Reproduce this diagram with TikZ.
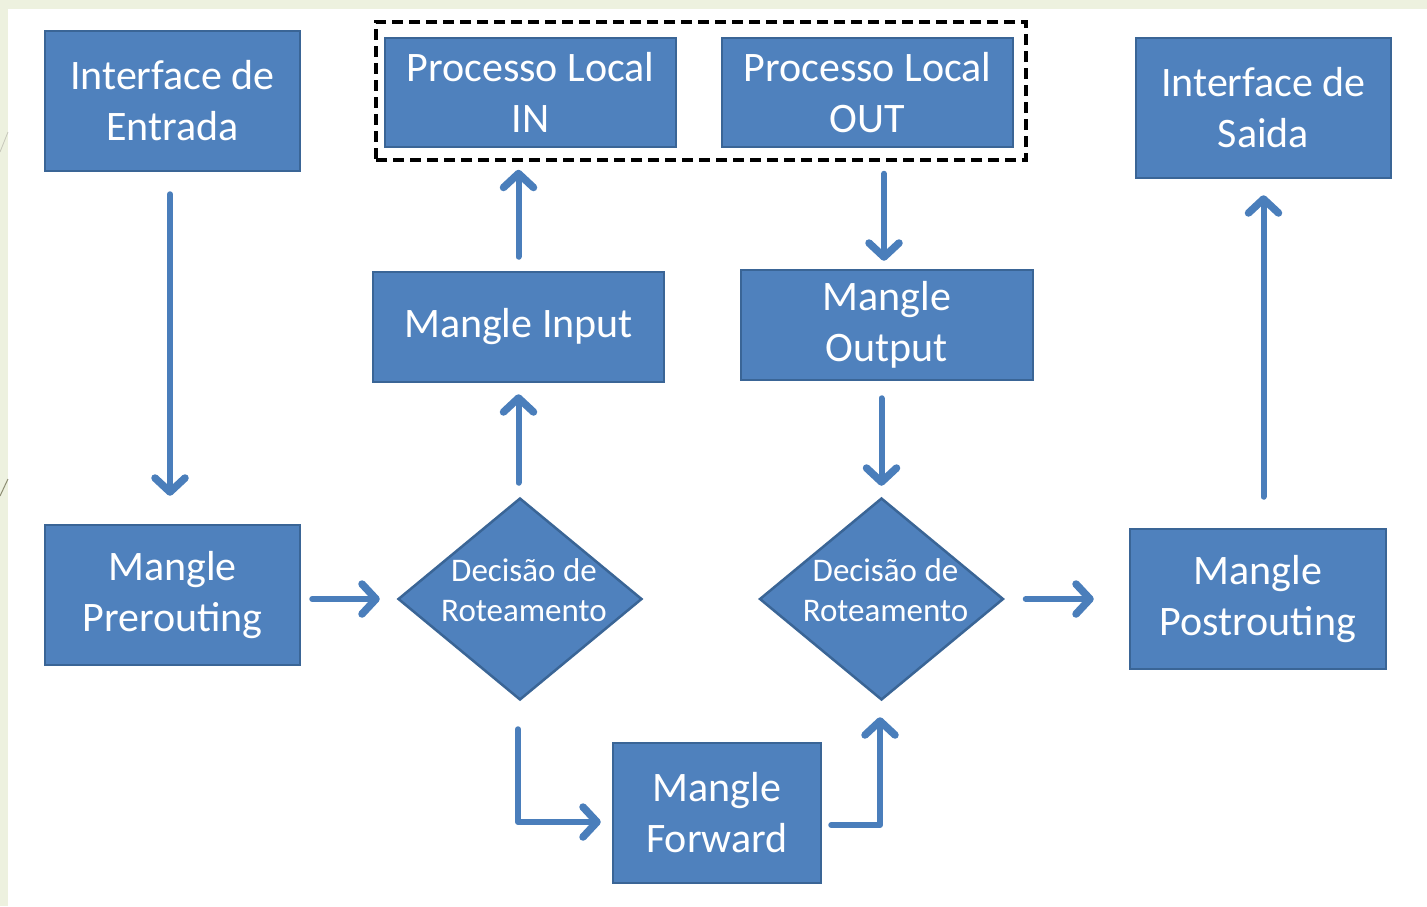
\documentclass[tikz,border=0pt]{standalone}
\usepackage{fontspec}
\setmainfont{Carlito}
\usetikzlibrary{arrows.meta,shapes.geometric,calc}
\definecolor{boxfill}{HTML}{4F81BD}
\definecolor{boxline}{HTML}{3A6596}
\definecolor{flow}{HTML}{4A7EBB}
\definecolor{slidebg}{HTML}{EDF1DF}
\definecolor{themeline}{HTML}{8C8C72}

\begin{document}
\begin{tikzpicture}[x=1pt,y=-1pt,
  block/.style={draw=boxline, line width=2.5pt, fill=boxfill, text=white,
    align=center, inner sep=0pt, font=\fontsize{42}{51}\selectfont},
  decision/.style={diamond, draw=boxline, line width=2.5pt, fill=boxfill,
    inner sep=0pt, minimum width=244pt, minimum height=202pt},
  dlabel/.style={text=white, align=center, inner sep=0pt,
    font=\fontsize{33}{40}\selectfont},
  flowarrow/.style={draw=flow, line width=6pt, line cap=round, line join=round,
    -{Straight Barb[length=14pt,width=30pt,line width=7.5pt,round]}},
  groupbox/.style={draw=black, line width=3.5pt, dash pattern=on 11pt off 6pt,
    inner sep=0pt}
]
% slide background
\useasboundingbox (0,0) rectangle (1427,906);
\fill[slidebg] (0,0) rectangle (1427,906);
\fill[white] (8,9) rectangle (1427,906);
\draw[themeline!50, line width=0.8pt] (0,152) -- (8,132);
\draw[themeline, line width=1pt] (0,496) -- (8,479);

% local process group
\node[groupbox, minimum width=650pt, minimum height=138pt] (grp) at (701,91) {};

% blocks
\node[block, minimum width=255pt, minimum height=140pt] (entrada) at (172.5,101) {Interface de\\Entrada};
\node[block, minimum width=291pt, minimum height=109pt] (pin) at (530.5,92.5) {Processo Local\\IN};
\node[block, minimum width=291pt, minimum height=109pt] (pout) at (867.5,92.5) {Processo Local\\OUT};
\node[block, minimum width=255pt, minimum height=140pt] (saida) at (1263.5,108) {Interface de\\Saida};
\node[block, minimum width=291pt, minimum height=110pt] (minput) at (518.5,327) {Mangle Input};
\node[block, minimum width=292pt, minimum height=110pt] (moutput) at (887,325) {Mangle\\Output};
\node[block, minimum width=255pt, minimum height=140pt] (prer) at (172.5,595) {Mangle\\Prerouting};
\node[block, minimum width=256pt, minimum height=140pt] (post) at (1258,599) {Mangle\\Postrouting};
\node[block, minimum width=208pt, minimum height=140pt] (fwd) at (717,813) {Mangle\\Forward};

% routing decisions
\node[decision] (d1) at (520,599) {};
\node[decision] (d2) at (881.5,599) {};
\node[dlabel] (d1t) at ([xshift=4pt,yshift=9pt]d1.center) {Decisão de\\Roteamento};
\node[dlabel] (d2t) at ([xshift=4pt,yshift=9pt]d2.center) {Decisão de\\Roteamento};

% flow
\draw[flowarrow, shorten <=22pt, shorten >=28pt] ([xshift=-2.5pt]entrada.south) -- ([xshift=-2.5pt]prer.north);
\draw[flowarrow, shorten <=11pt, shorten >=17pt] (prer.east |- d1.west) -- (d1.west);
\draw[flowarrow, shorten <=14pt, shorten >=11pt] (minput.south |- d1.north) -- (minput.south);
\draw[flowarrow, shorten <=14pt, shorten >=8pt] (minput.north) -- (minput.north |- grp.south);
\draw[flowarrow, shorten <=12pt, shorten >=8pt] ([xshift=-3pt]moutput.north |- grp.south) -- ([xshift=-3pt]moutput.north);
\draw[flowarrow, shorten <=17pt, shorten >=11pt] (d2.north |- moutput.south) -- (d2.north);
\draw[flowarrow, shorten <=21pt, shorten >=35pt] (d2.east) -- (post.west |- d2.east);
\draw[flowarrow, shorten <=31pt, shorten >=16pt] (post.north -| saida.south) -- (saida.south);
\draw[flowarrow, shorten <=28pt, shorten >=11pt] ([xshift=-2pt]d1.south) |- ([yshift=-9pt]fwd.west);
\draw[flowarrow, shorten <=9pt, shorten >=16pt] ([yshift=-12pt]fwd.east) -| ([xshift=-1.5pt]d2.south);
\end{tikzpicture}
\end{document}
